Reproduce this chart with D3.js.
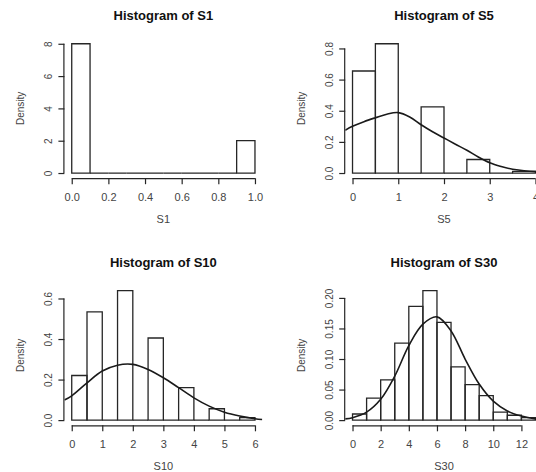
<!DOCTYPE html>
<html><head><meta charset="utf-8">
<script src="https://cdn.jsdelivr.net/npm/d3@7"></script>
<style>
html,body{margin:0;padding:0;background:#fff;}
svg{display:block;}
text{font-family:"Liberation Sans",Arial,sans-serif;}
</style></head>
<body>
<svg id="chart" width="536" height="472"></svg>
<script>
// ---- data ----
const s1Breaks = [0,0.1,0.2,0.3,0.4,0.5,0.6,0.7,0.8,0.9,1.0];
const s1Density = [8,0,0,0,0,0,0,0,0,2];
const s1Ticks = [0,0.2,0.4,0.6,0.8,1.0];
const s1TickLabels = ["0.0","0.2","0.4","0.6","0.8","1.0"];
const s1YTicks = [0,2,4,6,8];
const s1YTickLabels = ["0","2","4","6","8"];

const s5Breaks = [0,0.5,1,1.5,2,2.5,3,3.5,4];
const s5Density = [0.655,0.83,0,0.425,0,0.087,0,0.011];
const s5Ticks = [0,1,2,3,4];
const s5TickLabels = ["0","1","2","3","4"];
const s5YTicks = [0,0.2,0.4,0.6,0.8];
const s5YTickLabels = ["0.0","0.2","0.4","0.6","0.8"];
const s5CurveX = [-0.16,0,0.25,0.5,0.75,1,1.25,1.5,1.75,2,2.25,2.5,2.75,3,3.25,3.5,3.75,4,4.16];
const s5CurveY = [0.275,0.30,0.33,0.355,0.378,0.388,0.36,0.31,0.265,0.225,0.185,0.146,0.103,0.066,0.042,0.024,0.015,0.009,0.007];

const s10Breaks = [0,0.5,1,1.5,2,2.5,3,3.5,4,4.5,5,5.5,6];
const s10Density = [0.22,0.534,0,0.639,0,0.405,0,0.16,0,0.056,0,0.012];
const s10Ticks = [0,1,2,3,4,5,6];
const s10TickLabels = ["0","1","2","3","4","5","6"];
const s10YTicks = [0,0.2,0.4,0.6];
const s10YTickLabels = ["0.0","0.2","0.4","0.6"];
const s10CurveX = [-0.24,0,0.5,1,1.5,2,2.5,3,3.5,4,4.5,5,5.5,6,6.24];
const s10CurveY = [0.099,0.12,0.184,0.242,0.271,0.275,0.25,0.209,0.16,0.11,0.069,0.039,0.02,0.007,0.003];

const s30Breaks = [0,1,2,3,4,5,6,7,8,9,10,11,12,13];
const s30Density = [0.01,0.036,0.066,0.126,0.186,0.212,0.16,0.087,0.058,0.04,0.013,0.008,0.004];
const s30Ticks = [0,2,4,6,8,10,12];
const s30TickLabels = ["0","2","4","6","8","10","12"];
const s30YTicks = [0,0.05,0.10,0.15,0.20];
const s30YTickLabels = ["0.00","0.05","0.10","0.15","0.20"];
const s30CurveX = [-0.52,0,1,2,3,4,5,6,7,8,9,10,11,12,13,13.52];
const s30CurveY = [0.002,0.004,0.013,0.034,0.072,0.122,0.157,0.169,0.146,0.10,0.059,0.031,0.015,0.0066,0.002,0.001];

const panels = [
  {name:"S1", breaks:s1Breaks, dens:s1Density, ticks:s1Ticks, tickLabels:s1TickLabels, yTicks:s1YTicks, yTickLabels:s1YTickLabels, cx:null, cy:null, col:0, row:0},
  {name:"S5", breaks:s5Breaks, dens:s5Density, ticks:s5Ticks, tickLabels:s5TickLabels, yTicks:s5YTicks, yTickLabels:s5YTickLabels, cx:s5CurveX, cy:s5CurveY, col:1, row:0},
  {name:"S10", breaks:s10Breaks, dens:s10Density, ticks:s10Ticks, tickLabels:s10TickLabels, yTicks:s10YTicks, yTickLabels:s10YTickLabels, cx:s10CurveX, cy:s10CurveY, col:0, row:1},
  {name:"S30", breaks:s30Breaks, dens:s30Density, ticks:s30Ticks, tickLabels:s30TickLabels, yTicks:s30YTicks, yTickLabels:s30YTickLabels, cx:s30CurveX, cy:s30CurveY, col:1, row:1}
];

// ---- layout ----
const colX = [[64.4, 262.3],[345.2, 542.8]];
const rowY = [[38.6, 178.2],[285.4, 425.3]];

const svg = d3.select("#chart");
const ink = "#262626";

panels.forEach((p, i) => {
  const [xl, xr] = colX[p.col];
  const [yt, yb] = rowY[p.row];
  const xmin = p.breaks[0], xmax = p.breaks[p.breaks.length-1];
  const xext = 0.04*(xmax-xmin);
  const ymax = d3.max(p.dens);
  const yext = 0.04*ymax;
  const x = d3.scaleLinear().domain([xmin-xext, xmax+xext]).range([xl, xr]);
  const y = d3.scaleLinear().domain([-yext, ymax+yext]).range([yb, yt]);

  const g = svg.append("g");
  const clipId = "clip"+i;
  svg.append("clipPath").attr("id", clipId).append("rect")
    .attr("x", xl).attr("y", yt).attr("width", xr-xl).attr("height", yb-yt);

  // bars (drawn as paths so zero-height bins still show as a baseline)
  const bins = p.dens.map((d,k)=>({x0:p.breaks[k], x1:p.breaks[k+1], d:d}));
  g.selectAll("path.bar").data(bins).enter().append("path")
    .attr("class","bar")
    .attr("d", d => "M"+x(d.x0)+","+y(0)+"V"+y(d.d)+"H"+x(d.x1)+"V"+y(0)+"Z")
    .attr("fill","none").attr("stroke", ink).attr("stroke-width",1.3);

  // curve
  if (p.cx) {
    const pts = p.cx.map((v,k)=>[v, p.cy[k]]);
    g.append("path").datum(pts)
      .attr("clip-path","url(#"+clipId+")")
      .attr("d", d3.line().x(d=>x(d[0])).y(d=>y(d[1])).curve(d3.curveCatmullRom))
      .attr("fill","none").attr("stroke","#1a1a1a").attr("stroke-width",1.6);
  }

  // x axis (R style)
  const xAxis = d3.axisBottom(x).tickValues(p.ticks).tickSize(6).tickSizeOuter(0)
    .tickFormat((d,k)=>p.tickLabels[k]);
  const gx = g.append("g").attr("transform","translate(0,"+yb+")").call(xAxis);
  gx.select(".domain").attr("d","M"+x(p.ticks[0])+",0.5H"+x(p.ticks[p.ticks.length-1]))
    .attr("stroke",ink).attr("stroke-width",1.2);
  gx.selectAll(".tick line").attr("stroke",ink).attr("stroke-width",1.2);
  gx.selectAll(".tick text").attr("y",15).attr("dy","0.71em")
    .attr("font-size",11).attr("fill","#444").attr("font-family","Liberation Sans, Arial, sans-serif");

  // y axis
  const yAxis = d3.axisLeft(y).tickValues(p.yTicks).tickSize(6).tickSizeOuter(0)
    .tickFormat((d,k)=>p.yTickLabels[k]);
  const gy = g.append("g").attr("transform","translate("+xl+",0)").call(yAxis);
  gy.select(".domain").attr("d","M-0.5,"+y(p.yTicks[0])+"V"+y(p.yTicks[p.yTicks.length-1]))
    .attr("stroke",ink).attr("stroke-width",1.2);
  gy.selectAll(".tick line").attr("stroke",ink).attr("stroke-width",1.2);
  gy.selectAll(".tick text")
    .attr("x",null).attr("dy",null)
    .attr("text-anchor","middle")
    .attr("transform","translate(-12.5,0) rotate(-90)")
    .attr("font-size",10).attr("fill","#444").attr("font-family","Liberation Sans, Arial, sans-serif");

  // titles
  g.append("text").attr("x",(xl+xr)/2).attr("y",yt-18.5)
    .attr("text-anchor","middle").attr("font-size",13).attr("font-weight","bold")
    .attr("fill","#111").text("Histogram of "+p.name);
  g.append("text").attr("x",(xl+xr)/2).attr("y",yb+44.5)
    .attr("text-anchor","middle").attr("font-size",11).attr("fill","#444").text(p.name);
  g.append("text")
    .attr("transform","translate("+(xl-40)+","+((yt+yb)/2)+") rotate(-90)")
    .attr("text-anchor","middle").attr("font-size",10).attr("fill","#444").text("Density");
});
</script>
</body></html>
